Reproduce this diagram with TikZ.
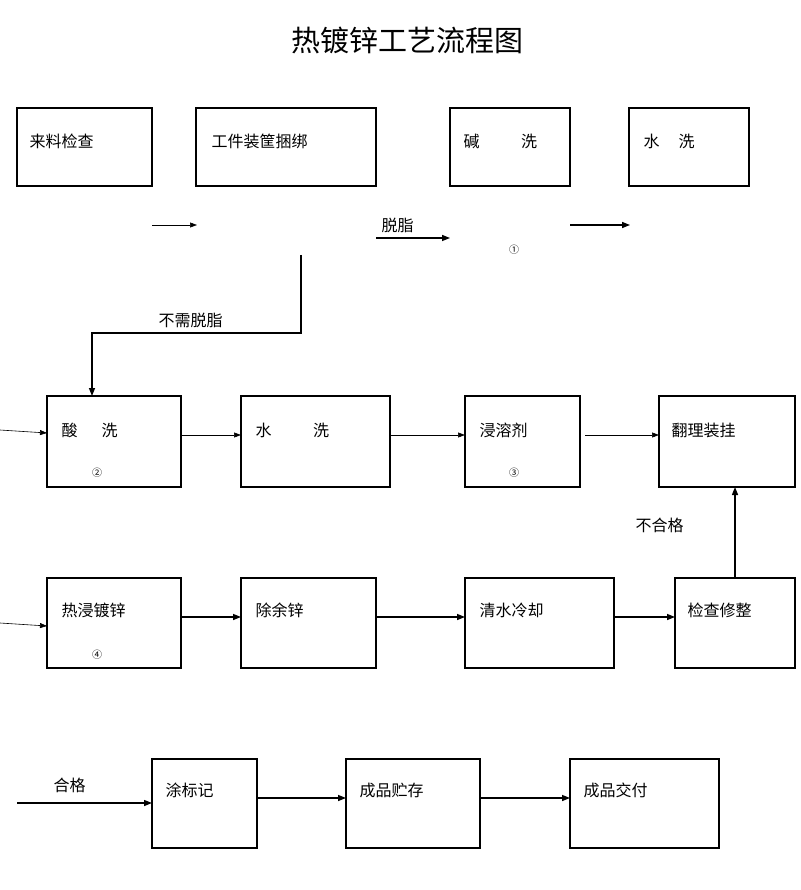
\documentclass[tikz,border=0pt]{standalone}
\usepackage{fontspec}
\setmainfont{Noto Sans CJK SC}
\usetikzlibrary{arrows.meta}
\begin{document}
\begin{tikzpicture}[x=1pt,y=-1pt,
 box/.style={draw,line width=1.2pt},
 lab/.style={anchor=west,font=\fontsize{16}{18}\selectfont},
 thin/.style={-{Triangle[length=7pt,width=5pt]},line width=0.6pt},
 thick/.style={-{Triangle[length=8pt,width=6pt]},line width=1.4pt},
 num/.style={font=\fontsize{10}{11}\selectfont}]
\useasboundingbox (0,0) rectangle (800,890);
\node[font=\fontsize{29}{32}\selectfont] (title) at (407,40) {热镀锌工艺流程图};
% row1
\draw[box] (17,108) rectangle (152,186); \node[lab] (a1) at (26,141) {来料检查};
\draw[box] (196,108) rectangle (376,186); \node[lab] (a2) at (208,141) {工件装筐捆绑};
\draw[box] (450,108) rectangle (570,186); \node[lab] (a3) at (460,141) {碱\hspace{2.6em}洗};
\draw[box] (629,108) rectangle (749,186); \node[lab] (a4) at (640,141) {水\hspace{1.2em}洗};
\coordinate (r1a) at (152,225); \coordinate (r1b) at (197,225);
\draw[thin] (r1a) -- (r1b);
\coordinate (r1c) at (376,238); \coordinate (r1d) at (450,238);
\draw[thick] (r1c) -- (r1d);
\node[lab] (tz) at (378,225) {脱脂};
\coordinate (r1e) at (570,225); \coordinate (r1f) at (630,225);
\draw[thick] (r1e) -- (r1f);
\node[num] (n1) at (514,250) {①};
\coordinate (s1) at (301,255); \coordinate (s2) at (92,396);
\draw[thick] (s1) |- (92,333) -- (s2);
\node[lab] (bx) at (155,320) {不需脱脂};
% row2
\draw[box] (47,396) rectangle (181,487); \node[lab] (b1) at (58,430) {酸\hspace{1.5em}洗};
\draw[box] (241,396) rectangle (390,487); \node[lab] (b2) at (252,430) {水\hspace{2.6em}洗};
\draw[box] (465,396) rectangle (580,487); \node[lab] (b3) at (476,430) {浸溶剂};
\draw[box] (659,396) rectangle (795,487); \node[lab] (b4) at (668,430) {翻理装挂};
\node[num] (n2) at (97,473) {②};
\node[num] (n3) at (514,473) {③};
\draw[thin] (0,430) -- (47,433);
\draw[thin] (181,435) -- (241,435);
\draw[thin] (390,435) -- (465,435);
\draw[thin] (585,435) -- (659,435);
% row3
\draw[box] (47,578) rectangle (181,668); \node[lab] (c1) at (58,610) {热浸镀锌};
\draw[box] (241,578) rectangle (376,668); \node[lab] (c2) at (252,610) {除余锌};
\draw[box] (465,578) rectangle (614,668); \node[lab] (c3) at (476,610) {清水冷却};
\draw[box] (675,578) rectangle (795,668); \node[lab] (c4) at (684,610) {检查修整};
\node[num] (n4) at (97,655) {④};
\draw[thin] (0,623) -- (47,626);
\draw[thick] (181,617) -- (241,617);
\draw[thick] (376,617) -- (465,617);
\draw[thick] (614,617) -- (675,617);
\draw[thick] (735,578) -- (735,487);
\node[lab] (bh) at (632,525) {不合格};
% row4
\draw[box] (152,759) rectangle (257,848); \node[lab] (d1) at (162,790) {涂标记};
\draw[box] (346,759) rectangle (480,848); \node[lab] (d2) at (356,790) {成品贮存};
\draw[box] (570,759) rectangle (719,848); \node[lab] (d3) at (580,790) {成品交付};
\draw[thick] (17,803) -- (152,803);
\node[lab] (hg) at (50,785) {合格};
\draw[thick] (257,798) -- (346,798);
\draw[thick] (480,798) -- (570,798);
\end{tikzpicture}
\end{document}
